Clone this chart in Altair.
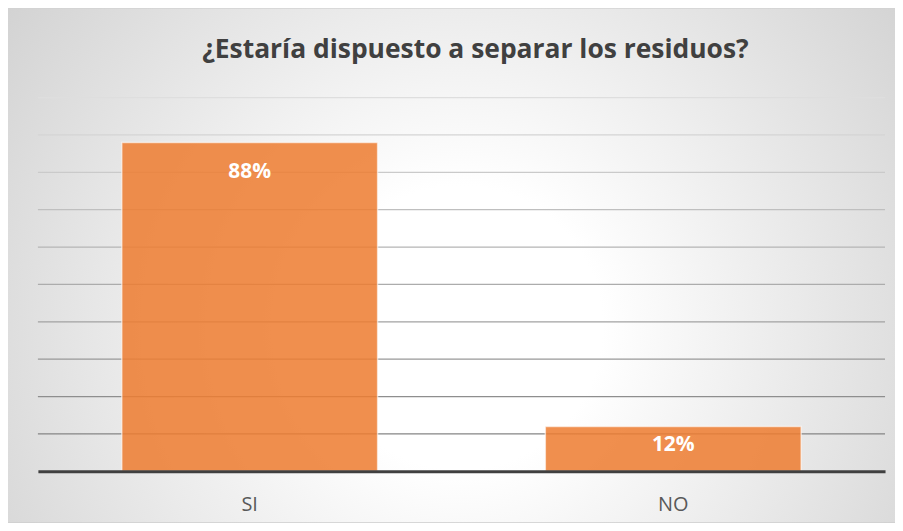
import altair as alt
import pandas as pd

categories = ["SI", "NO"]
percentages = [88, 12]
grid_ticks = [10, 20, 30, 40, 50, 60, 70, 80, 90, 100]
title_text = "¿Estaría dispuesto a separar los residuos?"

bars_df = pd.DataFrame({"cat": categories, "pct": percentages})
grid_df = pd.DataFrame({"tick": grid_ticks})

W, H = 850, 375
PAD = {"left": 30, "top": 89, "right": 10, "bottom": 51}

yscale = alt.Scale(domain=[0, 100], nice=False, zero=True)
xscale = alt.Scale(domain=categories, paddingInner=0.396, paddingOuter=0.198)
xaxis = alt.Axis(title=None, labelFontSize=20, labelColor="#595959", labelFont="Open Sans",
                 ticks=False, domainColor="#404040", domainWidth=3, labelPadding=33,
                 labelBaseline="middle", labelAngle=0, grid=False, zindex=1)

bg = alt.Chart(alt.Data(values=[{}])).mark_rect(
    fill=alt.Gradient(
        gradient="radial", x1=0.51, y1=0.57, r1=0, x2=0.51, y2=0.57, r2=0.8,
        stops=[alt.GradientStop(color="#ffffff", offset=0),
               alt.GradientStop(color="#ffffff", offset=0.2),
               alt.GradientStop(color="#c2c2c2", offset=1)],
    )
).encode(
    x=alt.value(-PAD["left"]), x2=alt.value(W + PAD["right"]),
    y=alt.value(-PAD["top"]), y2=alt.value(H + PAD["bottom"]),
)

title = alt.Chart(alt.Data(values=[{"t": title_text}])).mark_text(
    font="Open Sans", fontSize=26.5, fontWeight="bold", color="#404040",
    align="center", baseline="alphabetic",
).encode(x=alt.value(W / 2 + 14), y=alt.value(-40), text="t:N")

grid = alt.Chart(grid_df).mark_rule(strokeWidth=1.3).encode(
    y=alt.Y("tick:Q", scale=yscale, axis=None),
    color=alt.Color("tick:Q", scale=alt.Scale(domain=[10, 100], range=["#858585", "#dedede"]), legend=None),
)

bars = alt.Chart(bars_df).mark_bar(
    color="#ED7D31", fillOpacity=0.86, stroke="#ffffff", strokeWidth=1.5, strokeOpacity=0.6
).encode(
    x=alt.X("cat:N", scale=xscale, sort=categories, axis=xaxis),
    y=alt.Y("pct:Q", scale=yscale, axis=None),
)

labels = alt.Chart(bars_df).transform_calculate(
    label_y="max(datum.pct - 8, datum.pct / 2 + 1)", label="datum.pct + '%'"
).mark_text(color="white", fontWeight="bold", fontSize=21, font="Open Sans", baseline="middle").encode(
    x=alt.X("cat:N", scale=xscale, sort=categories, axis=xaxis),
    y=alt.Y("label_y:Q", scale=yscale, axis=None),
    text="label:N",
)

chart = alt.layer(bg, title, grid, bars, labels).properties(
    width=W, height=H, padding=PAD,
    autosize=alt.AutoSizeParams(type="none"),
    background="#d0d0d0",
).configure_view(stroke=None)

chart.save("out.html", embed_options={"renderer": "svg", "actions": False})
